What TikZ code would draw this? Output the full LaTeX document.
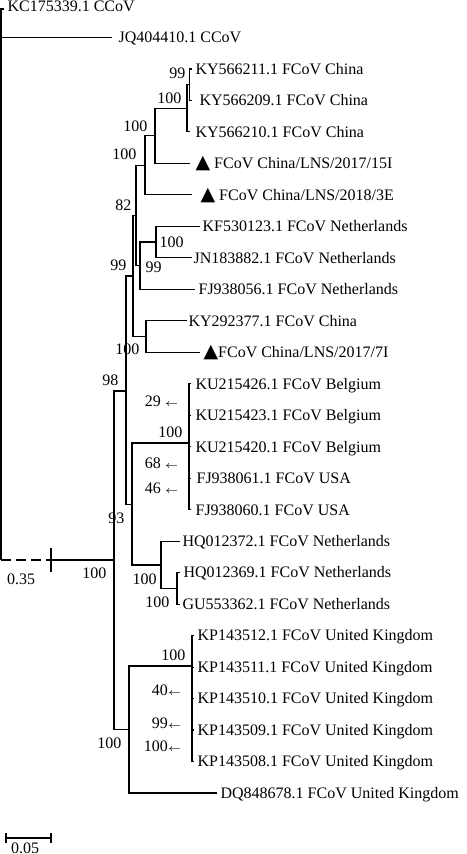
\documentclass[tikz,border=0pt]{standalone}
\usepackage{fontspec}
\setmainfont{Liberation Serif}
\newfontfamily\symf{DejaVu Sans}
\begin{document}
\begin{tikzpicture}[x=0.5pt,y=-0.5pt,line width=0.6pt,
  txt/.style={inner sep=0pt,text height=5.3pt,text depth=0pt,font=\fontsize{8}{9}\selectfont},
  leaf/.style={txt,anchor=west},
  bsE/.style={txt,anchor=east},
  bsW/.style={txt,anchor=west},
  bsC/.style={txt,anchor=center},
  dashline/.style={dash pattern=on 5pt off 2.5pt}]
\useasboundingbox (0,0) rectangle (466,854);
\newcommand{\tri}{{\symf\fontsize{9.5}{9.5}\selectfont ▲}}
\newcommand{\la}{{\fontsize{5.5}{6}\selectfont$\leftarrow$}}
% internal nodes
\coordinate (R) at (1,284);
\coordinate (Rb) at (1,560);
\coordinate (brk) at (51,560);
\coordinate (brkT) at (51,548);
\coordinate (brkB) at (51,572);
\coordinate (A) at (114,560);
\coordinate (B) at (126,391);
\coordinate (C) at (133,276);
\coordinate (D) at (136,215.5);
\coordinate (G) at (145,165.4);
\coordinate (H) at (155,135.9);
\coordinate (I) at (187,108.3);
\coordinate (n99) at (189.5,84.7);
\coordinate (N99) at (140,265.7);
\coordinate (NL) at (156,242.1);
\coordinate (F) at (146,336.5);
\coordinate (E) at (132,504.5);
\coordinate (BE) at (189,443);
\coordinate (NLb) at (161,565);
\coordinate (NLc) at (177,588.4);
\coordinate (U) at (129,729.5);
\coordinate (UK) at (192,666);
% tips
\coordinate (p1) at (4,9);
\coordinate (p2) at (112,37.5);
\coordinate (p3) at (191.5,69);
\coordinate (p4) at (191.5,100.4);
\coordinate (p5) at (189.5,131.9);
\coordinate (p6) at (190,163.4);
\coordinate (p7) at (192,194.9);
\coordinate (p8) at (200,226.4);
\coordinate (p9) at (192,257.8);
\coordinate (p10) at (195,289.3);
\coordinate (p11) at (187,320.8);
\coordinate (p12) at (200,352.3);
\coordinate (p13) at (191,383.8);
\coordinate (p14) at (191,415.2);
\coordinate (p15) at (191,446.7);
\coordinate (p16) at (191,478.2);
\coordinate (p17) at (191,509.7);
\coordinate (p18) at (180,541.2);
\coordinate (p19) at (180,572.6);
\coordinate (p20) at (179.5,604.1);
\coordinate (p21) at (194,635.6);
\coordinate (p22) at (194,667.1);
\coordinate (p23) at (194,698.6);
\coordinate (p24) at (194,730);
\coordinate (p25) at (194,761.5);
\coordinate (p26) at (217,793);
% leaf labels
\node[leaf] (t1) at (7,6) {KC175339.1 CCoV};
\node[leaf] (t2) at (118,37.5) {JQ404410.1 CCoV};
\node[leaf] (t3) at (195,69) {KY566211.1 FCoV China};
\node[leaf] (t4) at (199,100.4) {KY566209.1 FCoV China};
\node[leaf] (t5) at (195,131.9) {KY566210.1 FCoV China};
\node[leaf] (t6) at (195,163.4) {\tri\ FCoV China/LNS/2017/15I};
\node[leaf] (t7) at (200,194.9) {\tri\ FCoV China/LNS/2018/3E};
\node[leaf] (t8) at (202,226.4) {KF530123.1 FCoV Netherlands};
\node[leaf] (t9) at (193,257.8) {JN183882.1 FCoV Netherlands};
\node[leaf] (t10) at (198,289.3) {FJ938056.1 FCoV Netherlands};
\node[leaf] (t11) at (188,320.8) {KY292377.1 FCoV China};
\node[leaf] (t12) at (203,352.3) {\tri FCoV China/LNS/2017/7I};
\node[leaf] (t13) at (195,383.8) {KU215426.1 FCoV Belgium};
\node[leaf] (t14) at (195,415.2) {KU215423.1 FCoV Belgium};
\node[leaf] (t15) at (195,446.7) {KU215420.1 FCoV Belgium};
\node[leaf] (t16) at (196,478.2) {FJ938061.1 FCoV USA};
\node[leaf] (t17) at (195,509.7) {FJ938060.1 FCoV USA};
\node[leaf] (t18) at (182,541.2) {HQ012372.1 FCoV Netherlands};
\node[leaf] (t19) at (183,572.6) {HQ012369.1 FCoV Netherlands};
\node[leaf] (t20) at (182,604.1) {GU553362.1 FCoV Netherlands};
\node[leaf] (t21) at (197,635.6) {KP143512.1 FCoV United Kingdom};
\node[leaf] (t22) at (197,667.1) {KP143511.1 FCoV United Kingdom};
\node[leaf] (t23) at (197,698.6) {KP143510.1 FCoV United Kingdom};
\node[leaf] (t24) at (197,730) {KP143509.1 FCoV United Kingdom};
\node[leaf] (t25) at (197,761.5) {KP143508.1 FCoV United Kingdom};
\node[leaf] (t26) at (220,793) {DQ848678.1 FCoV United Kingdom};
% support values
\node[bsE] (s1) at (186,73) {99};
\node[bsE] (s2) at (182,98) {100};
\node[bsE] (s3) at (148,126) {100};
\node[bsE] (s4) at (137,154) {100};
\node[bsE] (s5) at (132,205) {82};
\node[bsW] (s6) at (159,242) {100};
\node[bsW] (s7) at (145,267) {99};
\node[bsE] (s8) at (127,265) {99};
\node[bsE] (s9) at (140,349) {100};
\node[bsE] (s10) at (119,380) {98};
\node[bsE] (s11) at (179,401) {29 \la};
\node[bsE] (s12) at (183,432) {100};
\node[bsE] (s13) at (179,463) {68 \la};
\node[bsE] (s14) at (179,488) {46 \la};
\node[bsE] (s15) at (125,518) {93};
\node[bsE] (s16) at (107,573) {100};
\node[bsW] (s17) at (132,579) {100};
\node[bsE] (s18) at (170,602) {100};
\node[bsE] (s19) at (186,655) {100};
\node[bsE] (s20) at (182,690) {40\la};
\node[bsE] (s21) at (182,723) {99\la};
\node[bsE] (s22) at (182,746) {100\la};
\node[bsE] (s23) at (122,743) {100};
\node[bsC] (d35) at (21,579) {0.35};
% branches
\draw (R) |- (p1);
\draw (R) |- (p2);
\draw (R) -- (Rb);
\draw[dashline] (Rb) -- (brk);
\draw (brk) -- (A);
\draw (brkT) -- (brkB);
\draw (A) |- (B);  \draw (A) |- (U);
\draw (B) |- (C);  \draw (B) |- (E);
\draw (C) |- (D);  \draw (C) |- (F);
\draw (D) |- (G);  \draw (D) |- (N99);
\draw (G) |- (H);  \draw (G) |- (p7);
\draw (H) |- (I);  \draw (H) |- (p6);
\draw (I) |- (n99); \draw (I) |- (p5);
\draw (n99) |- (p3); \draw (n99) |- (p4);
\draw (N99) |- (NL); \draw (N99) |- (p10);
\draw (NL) |- (p8); \draw (NL) |- (p9);
\draw (F) |- (p11); \draw (F) |- (p12);
\draw (E) |- (BE); \draw (E) |- (NLb);
\foreach \i in {13,...,17} {\draw (BE) |- (p\i);}
\draw (NLb) |- (p18); \draw (NLb) |- (NLc);
\draw (NLc) |- (p19); \draw (NLc) |- (p20);
\draw (U) |- (UK); \draw (U) |- (p26);
\foreach \i in {21,...,25} {\draw (UK) |- (p\i);}
% scale bar
\coordinate (sbL) at (6,838);
\coordinate (sbR) at (51,838);
\coordinate (sbL1) at (6,833);
\coordinate (sbL2) at (6,843);
\coordinate (sbR1) at (51,833);
\coordinate (sbR2) at (51,843);
\draw (sbL) -- (sbR);
\draw (sbL1) -- (sbL2);
\draw (sbR1) -- (sbR2);
\node[bsC] (sbt) at (25,848) {0.05};
\end{tikzpicture}
\end{document}
